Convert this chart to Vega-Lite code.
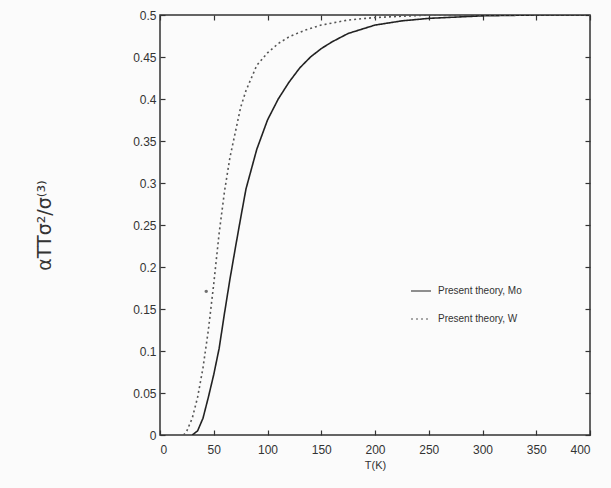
{
  "$schema": "https://vega.github.io/schema/vega-lite/v6.json",
  "autosize": {"type": "none"},
  "width": 430,
  "height": 420,
  "padding": {"left": 160, "top": 15, "right": 21, "bottom": 53},
  "background": "#fbfbfb",
  "config": {
    "view": {"stroke": "#333", "strokeWidth": 1.5},
    "font": "Liberation Sans",
    "axis": {"grid": false, "domain": false, "labelFont": "Liberation Sans", "labelFontSize": 12, "labelColor": "#333", "tickColor": "#333", "tickSize": -5, "tickWidth": 1.2, "titleFont": "Liberation Sans", "titleFontWeight": "normal", "titleColor": "#333"}
  },
  "datasets": {
    "curves": [
      {"T": 30, "v": 0, "series": "Present theory, Mo"},
      {"T": 35, "v": 0.005, "series": "Present theory, Mo"},
      {"T": 40, "v": 0.02, "series": "Present theory, Mo"},
      {"T": 45, "v": 0.045, "series": "Present theory, Mo"},
      {"T": 50, "v": 0.072, "series": "Present theory, Mo"},
      {"T": 55, "v": 0.103, "series": "Present theory, Mo"},
      {"T": 60, "v": 0.145, "series": "Present theory, Mo"},
      {"T": 65, "v": 0.185, "series": "Present theory, Mo"},
      {"T": 70, "v": 0.222, "series": "Present theory, Mo"},
      {"T": 75, "v": 0.258, "series": "Present theory, Mo"},
      {"T": 80, "v": 0.293, "series": "Present theory, Mo"},
      {"T": 90, "v": 0.34, "series": "Present theory, Mo"},
      {"T": 100, "v": 0.375, "series": "Present theory, Mo"},
      {"T": 110, "v": 0.4, "series": "Present theory, Mo"},
      {"T": 120, "v": 0.42, "series": "Present theory, Mo"},
      {"T": 130, "v": 0.437, "series": "Present theory, Mo"},
      {"T": 140, "v": 0.45, "series": "Present theory, Mo"},
      {"T": 150, "v": 0.46, "series": "Present theory, Mo"},
      {"T": 160, "v": 0.468, "series": "Present theory, Mo"},
      {"T": 175, "v": 0.478, "series": "Present theory, Mo"},
      {"T": 200, "v": 0.488, "series": "Present theory, Mo"},
      {"T": 225, "v": 0.493, "series": "Present theory, Mo"},
      {"T": 250, "v": 0.496, "series": "Present theory, Mo"},
      {"T": 300, "v": 0.499, "series": "Present theory, Mo"},
      {"T": 350, "v": 0.5, "series": "Present theory, Mo"},
      {"T": 400, "v": 0.5, "series": "Present theory, Mo"},
      {"T": 22, "v": 0, "series": "Present theory, W"},
      {"T": 25, "v": 0.005, "series": "Present theory, W"},
      {"T": 30, "v": 0.02, "series": "Present theory, W"},
      {"T": 35, "v": 0.045, "series": "Present theory, W"},
      {"T": 40, "v": 0.08, "series": "Present theory, W"},
      {"T": 45, "v": 0.125, "series": "Present theory, W"},
      {"T": 50, "v": 0.18, "series": "Present theory, W"},
      {"T": 55, "v": 0.24, "series": "Present theory, W"},
      {"T": 60, "v": 0.29, "series": "Present theory, W"},
      {"T": 65, "v": 0.33, "series": "Present theory, W"},
      {"T": 70, "v": 0.36, "series": "Present theory, W"},
      {"T": 75, "v": 0.39, "series": "Present theory, W"},
      {"T": 80, "v": 0.41, "series": "Present theory, W"},
      {"T": 90, "v": 0.44, "series": "Present theory, W"},
      {"T": 100, "v": 0.455, "series": "Present theory, W"},
      {"T": 110, "v": 0.466, "series": "Present theory, W"},
      {"T": 120, "v": 0.474, "series": "Present theory, W"},
      {"T": 135, "v": 0.482, "series": "Present theory, W"},
      {"T": 150, "v": 0.488, "series": "Present theory, W"},
      {"T": 175, "v": 0.494, "series": "Present theory, W"},
      {"T": 200, "v": 0.497, "series": "Present theory, W"},
      {"T": 250, "v": 0.5, "series": "Present theory, W"},
      {"T": 400, "v": 0.5, "series": "Present theory, W"}
    ],
    "dot": [{"T": 43, "v": 0.171}]
  },
  "resolve": {"axis": {"x": "independent", "y": "independent"}},
  "layer": [
    {
      "data": {"name": "curves"},
      "mark": {"type": "line", "strokeWidth": 1.6, "clip": true},
      "encoding": {
        "x": {"field": "T", "type": "quantitative", "scale": {"domain": [0, 400], "nice": false}, "axis": {"values": [0,50,100,150,200,250,300,350,400], "title": "T(K)", "titleFontSize": 11, "titlePadding": 4, "labelPadding": 14}},
        "y": {"field": "v", "type": "quantitative", "scale": {"domain": [0, 0.5], "nice": false}, "axis": {"values": [0,0.05,0.1,0.15,0.2,0.25,0.3,0.35,0.4,0.45,0.5], "labelExpr": "datum.value == 0 ? '0' : replace(format(datum.value, '.2f'), /0$/, '')", "title": "αTTσ²/σ⁽³⁾", "titleFont": "DejaVu Sans", "titleFontSize": 19, "titlePadding": 78, "labelPadding": 9}},
        "color": {"field": "series", "type": "nominal", "scale": {"range": ["#222", "#555"]}, "legend": {"orient": "none", "legendX": 250, "legendY": 265, "title": null, "symbolType": "stroke", "symbolSize": 400, "symbolStrokeWidth": 1.2, "labelFontSize": 10, "labelColor": "#333", "rowPadding": 12, "labelOffset": 6}},
        "strokeDash": {"field": "series", "type": "nominal", "scale": {"range": [[1, 0], [2, 3]]}, "legend": null}
      }
    },
    {
      "data": {"name": "dot"},
      "mark": {"type": "point", "filled": true, "size": 12, "color": "#333"},
      "encoding": {
        "x": {"field": "T", "type": "quantitative", "axis": {"orient": "top", "values": [0,50,100,150,200,250,300,350,400], "labels": false, "title": null}},
        "y": {"field": "v", "type": "quantitative", "axis": {"orient": "right", "values": [0,0.05,0.1,0.15,0.2,0.25,0.3,0.35,0.4,0.45,0.5], "labels": false, "title": null}}
      }
    }
  ]
}
